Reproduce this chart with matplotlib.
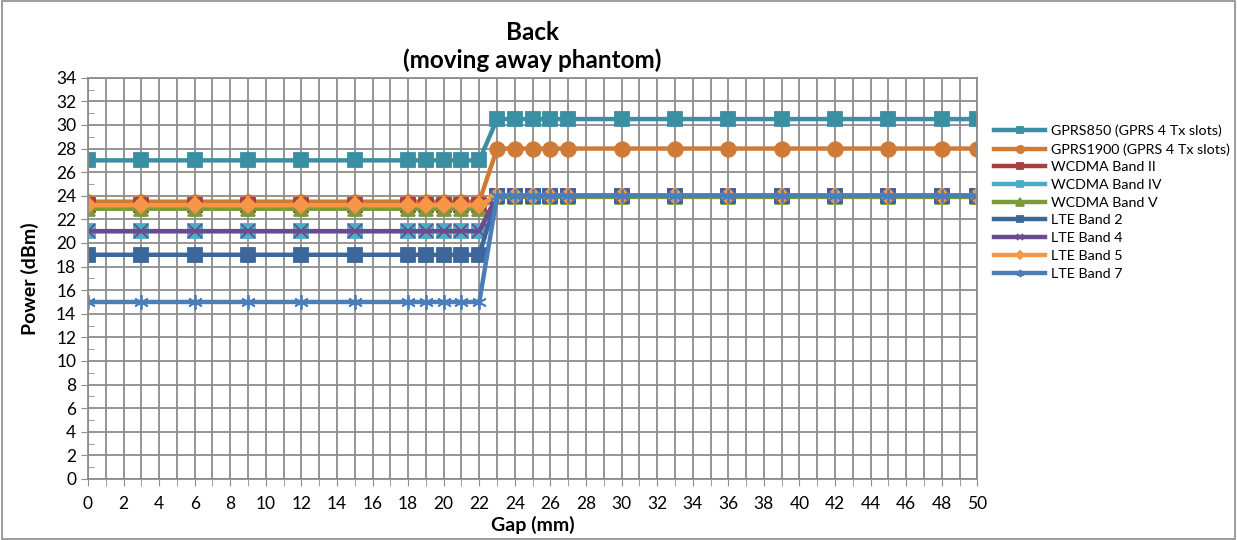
import numpy as np
import matplotlib
matplotlib.use("Agg")
import matplotlib.pyplot as plt
from matplotlib.ticker import MultipleLocator

plt.rcParams['font.family'] = ['Lato', 'DejaVu Sans']

# Gap values (mm)
gap = [0, 3, 6, 9, 12, 15, 18, 19, 20, 21, 22, 23, 24, 25, 26, 27,
       30, 33, 36, 39, 42, 45, 48, 50]

# power levels before / after the step at 23 mm
gprs850 = [27.0] * 11 + [30.5] * 13
gprs1900 = [23.5] * 11 + [28.0] * 13
wcdma2 = [23.2] * 11 + [24.0] * 13
wcdma4 = [21.0] * 11 + [24.0] * 13
wcdma5 = [22.9] * 11 + [23.9] * 13
lte2 = [19.0] * 11 + [24.0] * 13
lte4 = [21.0] * 11 + [24.0] * 13
lte5 = [23.2] * 11 + [24.0] * 13
lte7 = [15.0] * 11 + [24.0] * 13

series = [
    ("GPRS850 (GPRS 4 Tx slots)", gprs850, "#3A8FA3", "s", 9.5),
    ("GPRS1900 (GPRS 4 Tx slots)", gprs1900, "#D07B35", "o", 10.5),
    ("WCDMA Band II", wcdma2, "#A5403E", "s", 9.5),
    ("WCDMA Band IV", wcdma4, "#4BACC6", "s", 9.5),
    ("WCDMA Band V", wcdma5, "#7A9A3C", "^", 10.5),
    ("LTE Band 2", lte2, "#3B679A", "s", 9.5),
    ("LTE Band 4", lte4, "#6A4C8E", "x", 9.5),
    ("LTE Band 5", lte5, "#F79646", "D", 8),
    ("LTE Band 7", lte7, "#4A7EBB", (6, 2, 0), 10.5),
]

fig = plt.figure(figsize=(12.37, 5.40), dpi=100)
ax = fig.add_axes([0.0711, 0.113, 0.719, 0.743])

for name, vals, col, mk, ms in series:
    ax.plot(gap, vals, color=col, lw=3.2, marker=mk, ms=ms,
            mew=1.3, mec=col, label=name)

ax.set_xlim(0, 50)
ax.set_ylim(0, 34)
ax.xaxis.set_major_locator(MultipleLocator(2))
ax.xaxis.set_minor_locator(MultipleLocator(1))
ax.yaxis.set_major_locator(MultipleLocator(2))
ax.yaxis.set_minor_locator(MultipleLocator(1))
ax.grid(which='major', color='#8C8C8C', lw=1.3)
ax.grid(which='minor', axis='x', color='#8C8C8C', lw=1.3)
ax.set_axisbelow(True)
ax.tick_params(axis='both', which='major', labelsize=12.5, length=5,
               color='#8C8C8C', direction='out')
ax.tick_params(axis='x', which='major', pad=7)
ax.tick_params(axis='x', which='minor', length=5, color='#8C8C8C', direction='out')
ax.tick_params(axis='y', which='minor', length=4, color='#8C8C8C', direction='in')
for s in ax.spines.values():
    s.set_color('#8C8C8C')
    s.set_linewidth(1.3)

ax.set_title("Back\n(moving away phantom)", fontsize=17.5, fontweight='bold', pad=7,
             linespacing=1.25)
ax.set_xlabel("Gap (mm)", fontsize=14, fontweight='bold', labelpad=3)
ax.set_ylabel("Power (dBm)", fontsize=14, fontweight='bold', labelpad=12)

ax.legend(loc='upper left', bbox_to_anchor=(1.004, 0.915), frameon=False,
          fontsize=10.3, handlelength=3.6, markerscale=0.5, labelspacing=0.4,
          handletextpad=0.4)

fig.patches.append(plt.Rectangle((0.002, 0.002), 0.996, 0.996, transform=fig.transFigure,
                                 fill=False, ec='#8C8C8C', lw=1.2))

fig.savefig("out.png", dpi=100)
